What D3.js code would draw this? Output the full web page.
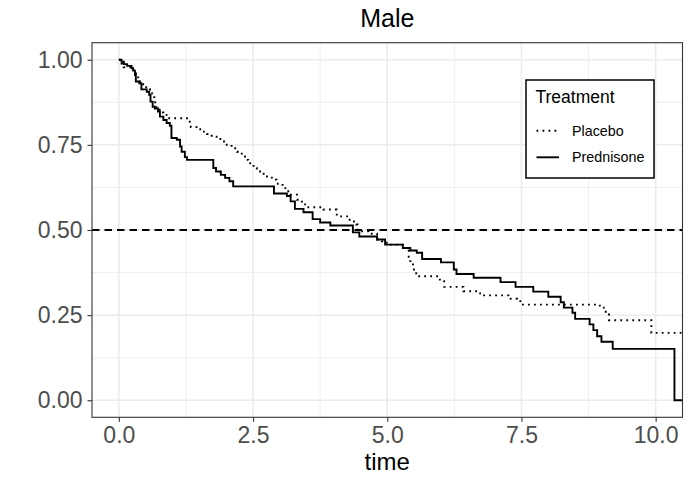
<!DOCTYPE html>
<html>
<head>
<meta charset="utf-8">
<script src="https://cdn.jsdelivr.net/npm/d3@7"></script>
<style>
    body { margin: 0; background: #fff; }
    text { font-family: "Liberation Sans", Arial, sans-serif; }
</style>
</head>
<body>
<div id="chart"></div>
<script>
// Chart text
const chartTitle = "Male";
const xTitle = "time";
const legendTitle = "Treatment";
const groups = ["Placebo", "Prednisone"];

// Kaplan-Meier steps (time, survival)
const placeboTimes = [0, 0.05, 0.09, 0.27, 0.32, 0.36, 0.44, 0.51, 0.58, 0.62, 0.66, 0.70, 0.76, 0.83, 0.92,
    1.27, 1.34, 1.45, 1.54, 1.64, 1.73, 1.82, 1.92, 2.01, 2.10, 2.20, 2.29, 2.35, 2.41, 2.51, 2.57, 2.66, 2.76,
    2.85, 2.94, 3.05, 3.13, 3.19, 3.32, 3.41, 3.47, 3.81, 4.06, 4.28, 4.34, 4.42, 4.45, 4.50, 4.65, 4.81, 4.90,
    4.99, 5.29, 5.40, 5.43, 5.48, 5.54, 5.98, 6.06, 6.42, 6.73, 7.26, 7.42, 7.48, 8.96, 9.07, 9.13, 9.92, 10.6];
const placeboSurv = [1.0, 0.989, 0.978, 0.970, 0.955, 0.936, 0.928, 0.919, 0.906, 0.890, 0.875, 0.853, 0.845, 0.838, 0.828,
    0.818, 0.802, 0.796, 0.789, 0.782, 0.774, 0.767, 0.760, 0.750, 0.740, 0.730, 0.721, 0.706, 0.696, 0.682, 0.672, 0.665, 0.657,
    0.648, 0.636, 0.623, 0.614, 0.604, 0.589, 0.579, 0.567, 0.560, 0.540, 0.530, 0.525, 0.516, 0.501, 0.496, 0.489, 0.472, 0.467,
    0.457, 0.447, 0.421, 0.403, 0.384, 0.364, 0.350, 0.333, 0.320, 0.308, 0.298, 0.291, 0.281, 0.272, 0.257, 0.235, 0.198, 0.198];

const predTimes = [0, 0.05, 0.093, 0.155, 0.237, 0.267, 0.30, 0.317, 0.38, 0.42, 0.52, 0.565, 0.59, 0.63, 0.67, 0.73,
    0.765, 0.83, 0.89, 0.95, 0.98, 1.08, 1.14, 1.17, 1.23, 1.27, 1.76, 1.81, 1.90, 1.98, 2.06, 2.13, 2.89, 3.13, 3.20,
    3.28, 3.44, 3.61, 3.75, 3.94, 4.36, 4.48, 4.81, 4.96, 5.29, 5.43, 5.55, 5.65, 6.00, 6.24, 6.29, 6.61, 7.11, 7.39,
    7.72, 8.00, 8.23, 8.29, 8.45, 8.50, 8.77, 8.84, 8.91, 8.99, 9.20, 10.35, 10.6];
const predSurv = [1.0, 0.994, 0.987, 0.982, 0.975, 0.968, 0.955, 0.936, 0.931, 0.913, 0.906, 0.897, 0.877, 0.862, 0.857, 0.848,
    0.833, 0.823, 0.814, 0.806, 0.770, 0.765, 0.745, 0.730, 0.714, 0.706, 0.682, 0.672, 0.662, 0.653, 0.643, 0.628, 0.607, 0.600, 0.584,
    0.562, 0.552, 0.532, 0.522, 0.513, 0.493, 0.481, 0.472, 0.457, 0.447, 0.440, 0.433, 0.415, 0.405, 0.384, 0.371, 0.360, 0.347, 0.333,
    0.319, 0.304, 0.288, 0.272, 0.257, 0.239, 0.223, 0.206, 0.188, 0.172, 0.151, 0.0, 0.0];

// Axis ticks and the median reference line
const xTicks = [0, 2.5, 5, 7.5, 10];
const xMinor = [1.25, 3.75, 6.25, 8.75];
const yTicks = [0, 0.25, 0.5, 0.75, 1];
const yMinor = [0.125, 0.375, 0.625, 0.875];
const medianLine = 0.5;

function init() {
    const w = 692; // Chart width
    const h = 485; // Chart height
    const panel = { left: 92, right: 682.5, top: 42.7, bottom: 417.3 };
    const lineWidth = 1.9; // Curve stroke width

    const xScale = d3.scaleLinear().domain([-0.5, 10.5]).range([panel.left, panel.right]);
    const yScale = d3.scaleLinear().domain([-0.05, 1.05]).range([panel.bottom, panel.top]);

    const svg = d3.select("#chart")
        .append("svg")
        .attr("width", w)
        .attr("height", h);

    svg.append("defs").append("clipPath")
        .attr("id", "panel-clip")
        .append("rect")
        .attr("x", panel.left)
        .attr("y", panel.top)
        .attr("width", panel.right - panel.left)
        .attr("height", panel.bottom - panel.top);

    // Minor gridlines
    const grid = svg.append("g").attr("class", "grid");
    grid.selectAll("line.xminor")
        .data(xMinor).enter().append("line")
        .attr("x1", d => xScale(d)).attr("x2", d => xScale(d))
        .attr("y1", panel.top).attr("y2", panel.bottom)
        .attr("stroke", "#ebebeb").attr("stroke-width", 0.8);
    grid.selectAll("line.yminor")
        .data(yMinor).enter().append("line")
        .attr("y1", d => yScale(d)).attr("y2", d => yScale(d))
        .attr("x1", panel.left).attr("x2", panel.right)
        .attr("stroke", "#ebebeb").attr("stroke-width", 0.8);

    // Major gridlines
    grid.selectAll("line.xmajor")
        .data(xTicks).enter().append("line")
        .attr("x1", d => xScale(d)).attr("x2", d => xScale(d))
        .attr("y1", panel.top).attr("y2", panel.bottom)
        .attr("stroke", "#ebebeb").attr("stroke-width", 1.5);
    grid.selectAll("line.ymajor")
        .data(yTicks).enter().append("line")
        .attr("y1", d => yScale(d)).attr("y2", d => yScale(d))
        .attr("x1", panel.left).attr("x2", panel.right)
        .attr("stroke", "#ebebeb").attr("stroke-width", 1.5);

    // Survival curves as step lines
    const series = [
        { name: groups[0], data: placeboTimes.map((t, i) => ({ t: t, s: placeboSurv[i] })), dash: "1.8,4.2" },
        { name: groups[1], data: predTimes.map((t, i) => ({ t: t, s: predSurv[i] })), dash: null }
    ];

    const line = d3.line()
        .x(d => xScale(d.t))
        .y(d => yScale(d.s))
        .curve(d3.curveStepAfter);

    const curves = svg.append("g").attr("clip-path", "url(#panel-clip)");
    curves.selectAll("path")
        .data(series)
        .enter()
        .append("path")
        .attr("d", d => line(d.data))
        .attr("fill", "none")
        .attr("stroke", "#000")
        .attr("stroke-width", lineWidth)
        .attr("stroke-dasharray", d => d.dash);

    // Median line
    curves.append("line")
        .attr("x1", panel.left).attr("x2", panel.right)
        .attr("y1", yScale(medianLine)).attr("y2", yScale(medianLine))
        .attr("stroke", "#000")
        .attr("stroke-width", lineWidth)
        .attr("stroke-dasharray", "7.5,5");

    // Panel border
    svg.append("rect")
        .attr("x", panel.left).attr("y", panel.top)
        .attr("width", panel.right - panel.left)
        .attr("height", panel.bottom - panel.top)
        .attr("fill", "none")
        .attr("stroke", "#333")
        .attr("stroke-width", 1.1);

    // Axes
    const xAxis = d3.axisBottom(xScale).tickValues(xTicks).tickFormat(d3.format(".1f")).tickSize(4.5).tickPadding(5);
    const gx = svg.append("g")
        .attr("transform", `translate(0,${panel.bottom})`)
        .call(xAxis);
    gx.select(".domain").remove();
    gx.selectAll("line").attr("stroke", "#333").attr("stroke-width", 1.1);
    gx.selectAll("text")
        .attr("fill", "#4d4d4d")
        .attr("font-size", "23px")
        .attr("font-family", "Liberation Sans, Arial, sans-serif");

    const yAxis = d3.axisLeft(yScale).tickValues(yTicks).tickFormat(d3.format(".2f")).tickSize(4.5).tickPadding(5);
    const gy = svg.append("g")
        .attr("transform", `translate(${panel.left},0)`)
        .call(yAxis);
    gy.select(".domain").remove();
    gy.selectAll("line").attr("stroke", "#333").attr("stroke-width", 1.1);
    gy.selectAll("text")
        .attr("fill", "#4d4d4d")
        .attr("font-size", "23px")
        .attr("font-family", "Liberation Sans, Arial, sans-serif");

    // Titles
    svg.append("text")
        .attr("x", (panel.left + panel.right) / 2)
        .attr("y", 27.3)
        .attr("text-anchor", "middle")
        .attr("font-size", "25px")
        .text(chartTitle);

    svg.append("text")
        .attr("x", (panel.left + panel.right) / 2)
        .attr("y", 470)
        .attr("text-anchor", "middle")
        .attr("font-size", "24px")
        .text(xTitle);

    // Legend
    const legend = svg.append("g").attr("class", "legend");
    legend.append("rect")
        .attr("x", 526).attr("y", 80)
        .attr("width", 128).attr("height", 98)
        .attr("fill", "#fff")
        .attr("stroke", "#000")
        .attr("stroke-width", 1.5);
    legend.append("text")
        .attr("x", 535.5).attr("y", 103.3)
        .attr("font-size", "17.5px")
        .text(legendTitle);

    series.forEach((s, i) => {
        const row = legend.append("g")
            .attr("transform", `translate(536.5,${130.7 + i * 26.6})`);
        row.append("line")
            .attr("x1", 0).attr("x2", 22.5)
            .attr("stroke", "#000")
            .attr("stroke-width", lineWidth)
            .attr("stroke-dasharray", s.dash);
        row.append("text")
            .attr("x", 35.5).attr("y", 5)
            .attr("font-size", "14.3px")
            .text(s.name);
    });
}

window.onload = init;
</script>
</body>
</html>
